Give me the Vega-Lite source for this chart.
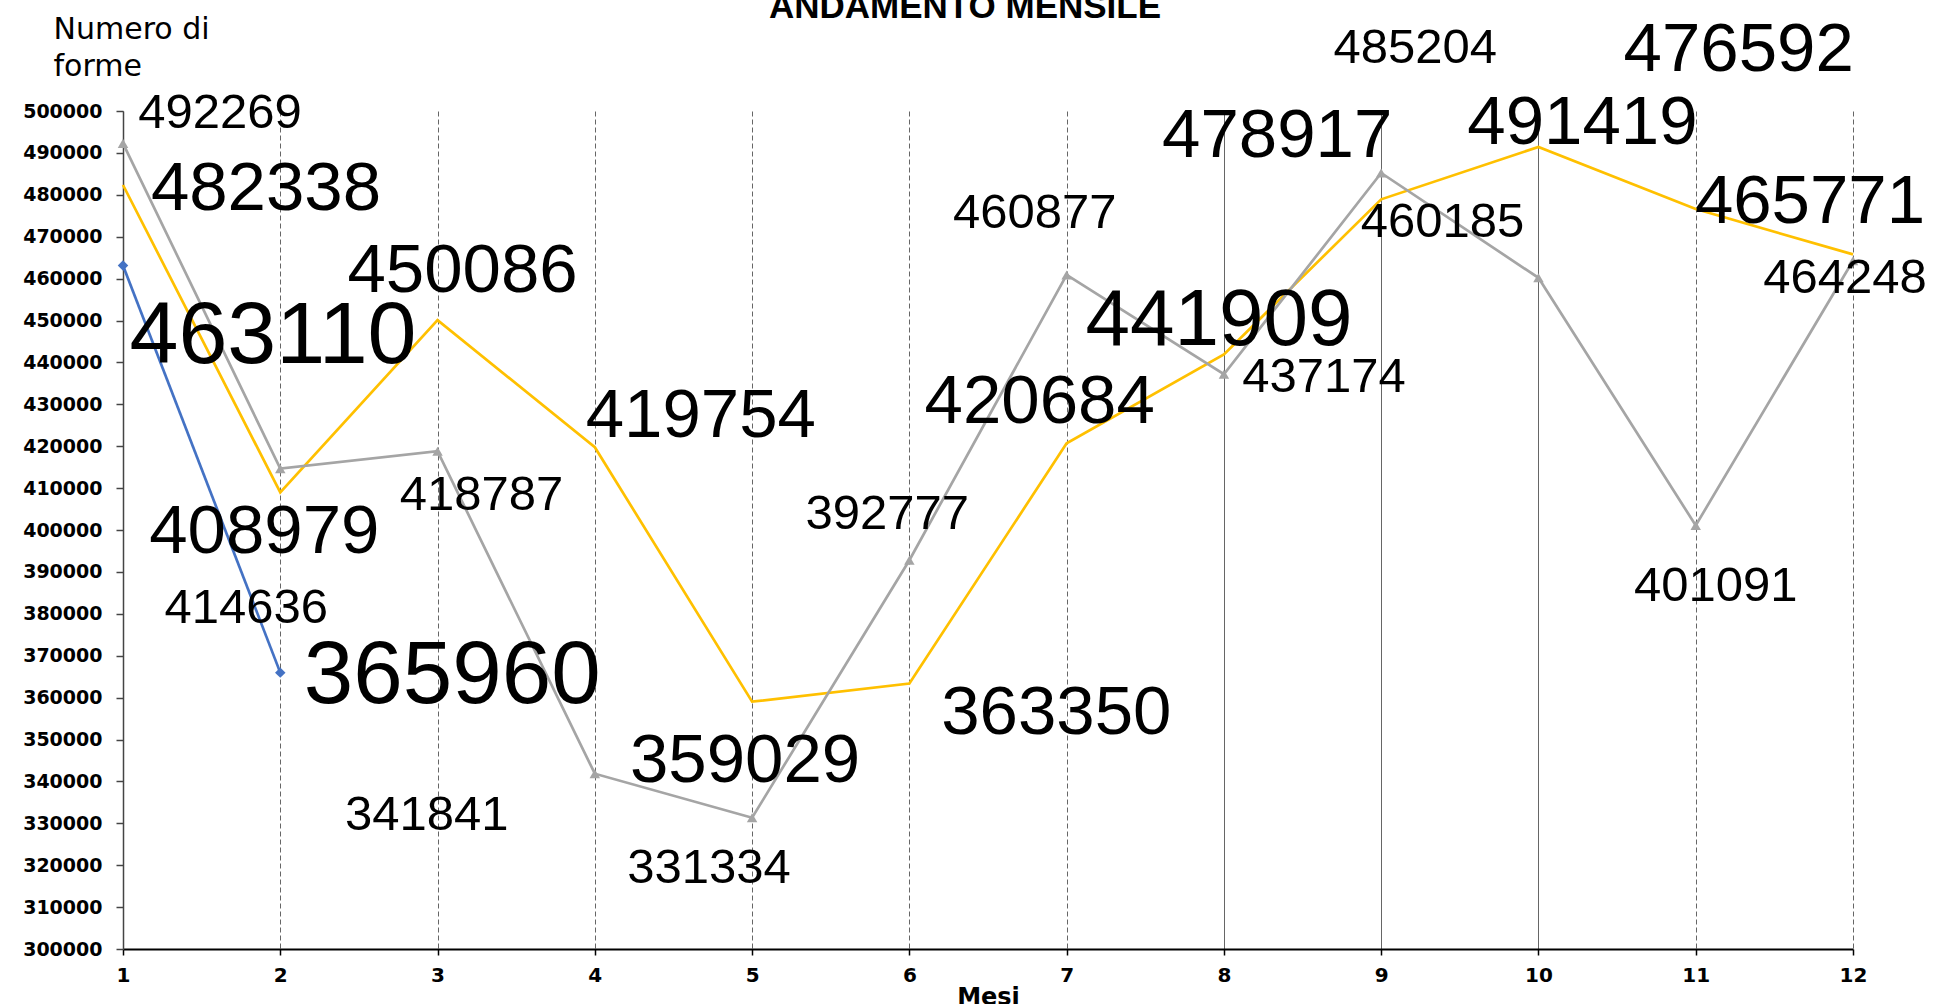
{
  "$schema": "https://vega.github.io/schema/vega-lite/v6.json",
  "width": 1730,
  "height": 838,
  "autosize": {"type": "none"},
  "padding": {"left": 123, "top": 111, "right": 84, "bottom": 55},
  "background": "white",
  "config": {"view": {"stroke": null}, "font": "Liberation Sans"},
  "title": {
    "text": "ANDAMENTO  MENSILE",
    "font": "Liberation Sans",
    "fontSize": 35,
    "fontWeight": "bold",
    "color": "black",
    "anchor": "middle",
    "frame": "group",
    "baseline": "alphabetic",
    "offset": -14,
    "dx": -23,
    "dy": 25
  },
  "data": {
    "values": [
      {"serie": "A", "mese": 1, "valore": 463110},
      {"serie": "A", "mese": 2, "valore": 365960},
      {"serie": "B", "mese": 1, "valore": 482338},
      {"serie": "B", "mese": 2, "valore": 408979},
      {"serie": "B", "mese": 3, "valore": 450086},
      {"serie": "B", "mese": 4, "valore": 419754},
      {"serie": "B", "mese": 5, "valore": 359029},
      {"serie": "B", "mese": 6, "valore": 363350},
      {"serie": "B", "mese": 7, "valore": 420684},
      {"serie": "B", "mese": 8, "valore": 441909},
      {"serie": "B", "mese": 9, "valore": 478917},
      {"serie": "B", "mese": 10, "valore": 491419},
      {"serie": "B", "mese": 11, "valore": 476592},
      {"serie": "B", "mese": 12, "valore": 465771},
      {"serie": "C", "mese": 1, "valore": 492269},
      {"serie": "C", "mese": 2, "valore": 414636},
      {"serie": "C", "mese": 3, "valore": 418787},
      {"serie": "C", "mese": 4, "valore": 341841},
      {"serie": "C", "mese": 5, "valore": 331334},
      {"serie": "C", "mese": 6, "valore": 392777},
      {"serie": "C", "mese": 7, "valore": 460877},
      {"serie": "C", "mese": 8, "valore": 437174},
      {"serie": "C", "mese": 9, "valore": 485204},
      {"serie": "C", "mese": 10, "valore": 460185},
      {"serie": "C", "mese": 11, "valore": 401091},
      {"serie": "C", "mese": 12, "valore": 464248}
    ]
  },
  "encoding": {
    "x": {
      "field": "mese",
      "type": "quantitative",
      "scale": {"domain": [1, 12], "nice": false, "zero": false},
      "axis": {
        "values": [1, 2, 3, 4, 5, 6, 7, 8, 9, 10, 11, 12],
        "format": "d",
        "grid": true,
        "gridColor": "#666666",
        "gridWidth": 1,
        "gridDash": {"condition": {"test": "datum.value >= 8 && datum.value <= 10", "value": []}, "value": [5, 3]},
        "domainColor": "black",
        "domainWidth": 2,
        "tickColor": "black",
        "tickSize": 6,
        "tickWidth": 1.5,
        "labelFont": "DejaVu Sans",
        "labelFontWeight": "bold",
        "labelFontSize": 20,
        "labelColor": "black",
        "labelPadding": 10,
        "labelFlush": false,
        "labelOverlap": false,
        "labelBaseline": "top",
        "title": "Mesi",
        "titleFont": "DejaVu Sans",
        "titleFontWeight": "bold",
        "titleFontSize": 24,
        "titleColor": "black",
        "titleBaseline": "top",
        "titleY": 36
      }
    },
    "y": {
      "field": "valore",
      "type": "quantitative",
      "scale": {"domain": [300000, 500000], "nice": false, "zero": false},
      "axis": {
        "values": [300000, 310000, 320000, 330000, 340000, 350000, 360000, 370000, 380000, 390000, 400000, 410000, 420000, 430000, 440000, 450000, 460000, 470000, 480000, 490000, 500000],
        "format": "d",
        "grid": false,
        "domainColor": "#444444",
        "domainWidth": 1.5,
        "tickColor": "#444444",
        "tickSize": 7,
        "tickWidth": 1.5,
        "labelFont": "DejaVu Sans",
        "labelFontWeight": "bold",
        "labelFontSize": 19,
        "labelColor": "black",
        "labelPadding": 14,
        "labelOverlap": false,
        "title": ["Numero di", "forme"],
        "titleAngle": 0,
        "titleAlign": "left",
        "titleBaseline": "alphabetic",
        "titleX": -70,
        "titleY": -73,
        "titleFont": "DejaVu Sans",
        "titleFontWeight": "normal",
        "titleFontSize": 30,
        "titleLineHeight": 37,
        "titleColor": "black"
      }
    }
  },
  "layer": [
    {
      "mark": {"type": "line", "strokeWidth": 2.7},
      "encoding": {
        "color": {"field": "serie", "type": "nominal", "scale": {"domain": ["A", "B", "C"], "range": ["#4472C4", "#FFC000", "#A5A5A5"]}, "legend": null}
      }
    },
    {
      "transform": [{"filter": "datum.serie != 'B'"}],
      "mark": {"type": "point", "filled": true, "size": 110, "opacity": 1},
      "encoding": {
        "color": {"field": "serie", "type": "nominal", "scale": {"domain": ["A", "B", "C"], "range": ["#4472C4", "#FFC000", "#A5A5A5"]}, "legend": null},
        "shape": {"field": "serie", "type": "nominal", "scale": {"domain": ["A", "C"], "range": ["diamond", "triangle-up"]}, "legend": null}
      }
    },
    {"transform": [{"filter": "datum.serie == 'A' && datum.mese == 1"}], "mark": {"type": "text", "fontSize": 88, "align": "center", "baseline": "alphabetic", "dx": 150, "dy": 97, "color": "black"}, "encoding": {"text": {"field": "valore", "type": "quantitative", "format": "d"}}},
    {"transform": [{"filter": "datum.serie == 'A' && datum.mese == 2"}], "mark": {"type": "text", "fontSize": 89, "align": "center", "baseline": "alphabetic", "dx": 172, "dy": 30, "color": "black"}, "encoding": {"text": {"field": "valore", "type": "quantitative", "format": "d"}}},

    {"transform": [{"filter": "datum.serie == 'B' && datum.mese == 1"}], "mark": {"type": "text", "fontSize": 69, "align": "center", "baseline": "alphabetic", "dx": 143, "dy": 25, "color": "black"}, "encoding": {"text": {"field": "valore", "type": "quantitative", "format": "d"}}},
    {"transform": [{"filter": "datum.serie == 'B' && datum.mese == 2"}], "mark": {"type": "text", "fontSize": 69, "align": "center", "baseline": "alphabetic", "dx": -16, "dy": 61, "color": "black"}, "encoding": {"text": {"field": "valore", "type": "quantitative", "format": "d"}}},
    {"transform": [{"filter": "datum.serie == 'B' && datum.mese == 3"}], "mark": {"type": "text", "fontSize": 69, "align": "center", "baseline": "alphabetic", "dx": 25, "dy": -28, "color": "black"}, "encoding": {"text": {"field": "valore", "type": "quantitative", "format": "d"}}},
    {"transform": [{"filter": "datum.serie == 'B' && datum.mese == 4"}], "mark": {"type": "text", "fontSize": 69, "align": "center", "baseline": "alphabetic", "dx": 106, "dy": -10, "color": "black"}, "encoding": {"text": {"field": "valore", "type": "quantitative", "format": "d"}}},
    {"transform": [{"filter": "datum.serie == 'B' && datum.mese == 5"}], "mark": {"type": "text", "fontSize": 69, "align": "center", "baseline": "alphabetic", "dx": -7, "dy": 80, "color": "black"}, "encoding": {"text": {"field": "valore", "type": "quantitative", "format": "d"}}},
    {"transform": [{"filter": "datum.serie == 'B' && datum.mese == 6"}], "mark": {"type": "text", "fontSize": 69, "align": "center", "baseline": "alphabetic", "dx": 147, "dy": 50, "color": "black"}, "encoding": {"text": {"field": "valore", "type": "quantitative", "format": "d"}}},
    {"transform": [{"filter": "datum.serie == 'B' && datum.mese == 7"}], "mark": {"type": "text", "fontSize": 69, "align": "center", "baseline": "alphabetic", "dx": -27, "dy": -20, "color": "black"}, "encoding": {"text": {"field": "valore", "type": "quantitative", "format": "d"}}},
    {"transform": [{"filter": "datum.serie == 'B' && datum.mese == 8"}], "mark": {"type": "text", "fontSize": 80, "align": "center", "baseline": "alphabetic", "dx": -5, "dy": -9, "color": "black"}, "encoding": {"text": {"field": "valore", "type": "quantitative", "format": "d"}}},
    {"transform": [{"filter": "datum.serie == 'B' && datum.mese == 9"}], "mark": {"type": "text", "fontSize": 69, "align": "center", "baseline": "alphabetic", "dx": -104, "dy": -42, "color": "black"}, "encoding": {"text": {"field": "valore", "type": "quantitative", "format": "d"}}},
    {"transform": [{"filter": "datum.serie == 'B' && datum.mese == 10"}], "mark": {"type": "text", "fontSize": 69, "align": "center", "baseline": "alphabetic", "dx": 44, "dy": -3, "color": "black"}, "encoding": {"text": {"field": "valore", "type": "quantitative", "format": "d"}}},
    {"transform": [{"filter": "datum.serie == 'B' && datum.mese == 11"}], "mark": {"type": "text", "fontSize": 69, "align": "center", "baseline": "alphabetic", "dx": 43, "dy": -138, "color": "black"}, "encoding": {"text": {"field": "valore", "type": "quantitative", "format": "d"}}},
    {"transform": [{"filter": "datum.serie == 'B' && datum.mese == 12"}], "mark": {"type": "text", "fontSize": 69, "align": "center", "baseline": "alphabetic", "dx": -43, "dy": -31, "color": "black"}, "encoding": {"text": {"field": "valore", "type": "quantitative", "format": "d"}}},

    {"transform": [{"filter": "datum.serie == 'C' && datum.mese == 1"}], "mark": {"type": "text", "fontSize": 49, "align": "center", "baseline": "alphabetic", "dx": 97, "dy": -15, "color": "black"}, "encoding": {"text": {"field": "valore", "type": "quantitative", "format": "d"}}},
    {"transform": [{"filter": "datum.serie == 'C' && datum.mese == 2"}], "mark": {"type": "text", "fontSize": 49, "align": "center", "baseline": "alphabetic", "dx": -34, "dy": 154, "color": "black"}, "encoding": {"text": {"field": "valore", "type": "quantitative", "format": "d"}}},
    {"transform": [{"filter": "datum.serie == 'C' && datum.mese == 3"}], "mark": {"type": "text", "fontSize": 49, "align": "center", "baseline": "alphabetic", "dx": 44, "dy": 59, "color": "black"}, "encoding": {"text": {"field": "valore", "type": "quantitative", "format": "d"}}},
    {"transform": [{"filter": "datum.serie == 'C' && datum.mese == 4"}], "mark": {"type": "text", "fontSize": 49, "align": "center", "baseline": "alphabetic", "dx": -168, "dy": 56, "color": "black"}, "encoding": {"text": {"field": "valore", "type": "quantitative", "format": "d"}}},
    {"transform": [{"filter": "datum.serie == 'C' && datum.mese == 5"}], "mark": {"type": "text", "fontSize": 49, "align": "center", "baseline": "alphabetic", "dx": -43, "dy": 65, "color": "black"}, "encoding": {"text": {"field": "valore", "type": "quantitative", "format": "d"}}},
    {"transform": [{"filter": "datum.serie == 'C' && datum.mese == 6"}], "mark": {"type": "text", "fontSize": 49, "align": "center", "baseline": "alphabetic", "dx": -22, "dy": -31, "color": "black"}, "encoding": {"text": {"field": "valore", "type": "quantitative", "format": "d"}}},
    {"transform": [{"filter": "datum.serie == 'C' && datum.mese == 7"}], "mark": {"type": "text", "fontSize": 49, "align": "center", "baseline": "alphabetic", "dx": -32, "dy": -47, "color": "black"}, "encoding": {"text": {"field": "valore", "type": "quantitative", "format": "d"}}},
    {"transform": [{"filter": "datum.serie == 'C' && datum.mese == 8"}], "mark": {"type": "text", "fontSize": 49, "align": "center", "baseline": "alphabetic", "dx": 100, "dy": 18, "color": "black"}, "encoding": {"text": {"field": "valore", "type": "quantitative", "format": "d"}}},
    {"transform": [{"filter": "datum.serie == 'C' && datum.mese == 9"}], "mark": {"type": "text", "fontSize": 49, "align": "center", "baseline": "alphabetic", "dx": 34, "dy": -110, "color": "black"}, "encoding": {"text": {"field": "valore", "type": "quantitative", "format": "d"}}},
    {"transform": [{"filter": "datum.serie == 'C' && datum.mese == 10"}], "mark": {"type": "text", "fontSize": 49, "align": "center", "baseline": "alphabetic", "dx": -96, "dy": -41, "color": "black"}, "encoding": {"text": {"field": "valore", "type": "quantitative", "format": "d"}}},
    {"transform": [{"filter": "datum.serie == 'C' && datum.mese == 11"}], "mark": {"type": "text", "fontSize": 49, "align": "center", "baseline": "alphabetic", "dx": 20, "dy": 76, "color": "black"}, "encoding": {"text": {"field": "valore", "type": "quantitative", "format": "d"}}},
    {"transform": [{"filter": "datum.serie == 'C' && datum.mese == 12"}], "mark": {"type": "text", "fontSize": 49, "align": "center", "baseline": "alphabetic", "dx": -8, "dy": 32, "color": "black"}, "encoding": {"text": {"field": "valore", "type": "quantitative", "format": "d"}}}
  ]
}
